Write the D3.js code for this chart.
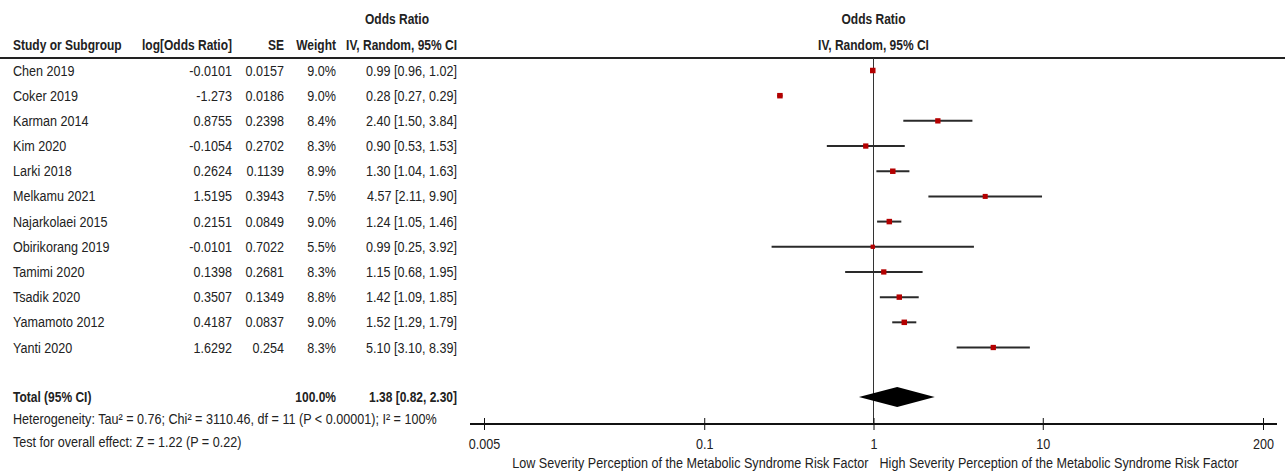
<!DOCTYPE html>
<html>
<head>
<meta charset="utf-8">
<script src="https://cdn.jsdelivr.net/npm/d3@7"></script>
<style>
  html, body { margin: 0; padding: 0; background: #fff; }
  svg { display: block; }
  text { font-family: "Liberation Sans", Arial, sans-serif; font-size: 15px; fill: #222; }
  .bold { font-weight: bold; }
</style>
</head>
<body>
<svg id="chart" width="1285" height="475"></svg>
<script>
const studies = ["Chen 2019","Coker 2019","Karman 2014","Kim 2020","Larki 2018","Melkamu 2021","Najarkolaei 2015","Obirikorang 2019","Tamimi 2020","Tsadik 2020","Yamamoto 2012","Yanti 2020"];
const logOR = ["-0.0101","-1.273","0.8755","-0.1054","0.2624","1.5195","0.2151","-0.0101","0.1398","0.3507","0.4187","1.6292"];
const se = ["0.0157","0.0186","0.2398","0.2702","0.1139","0.3943","0.0849","0.7022","0.2681","0.1349","0.0837","0.254"];
const weights = [9.0, 9.0, 8.4, 8.3, 8.9, 7.5, 9.0, 5.5, 8.3, 8.8, 9.0, 8.3];
const orValues = [0.99, 0.28, 2.40, 0.90, 1.30, 4.57, 1.24, 0.99, 1.15, 1.42, 1.52, 5.10];
const ciLower = [0.96, 0.27, 1.50, 0.53, 1.04, 2.11, 1.05, 0.25, 0.68, 1.09, 1.29, 3.10];
const ciUpper = [1.02, 0.29, 3.84, 1.53, 1.63, 9.90, 1.46, 3.92, 1.95, 1.85, 1.79, 8.39];
const totalOR = 1.38, totalLower = 0.82, totalUpper = 2.30;
const tickValues = [0.005, 0.1, 1, 10, 200];
const tickLabels = ["0.005", "0.1", "1", "10", "200"];
const heterogeneityText = "Heterogeneity: Tau\u00B2 = 0.76; Chi\u00B2 = 3110.46, df = 11 (P < 0.00001); I\u00B2 = 100%";
const overallText = "Test for overall effect: Z = 1.22 (P = 0.22)";
const leftLabel = "Low Severity Perception of the Metabolic Syndrome Risk Factor";
const rightLabel = "High Severity Perception of the Metabolic Syndrome Risk Factor";

const SX = 0.84;       // horizontal condensation to mimic a narrow face
const SX_BOLD = 0.80;

const svg = d3.select("#chart");
const x = d3.scaleLog().domain([0.005, 200]).range([484, 1263]);
const y = d3.scaleLinear().domain([0, 11]).range([70.5, 347.5]);
const size = d3.scaleSqrt().domain([0, 9]).range([0, 5.5]);
const fmtPct = w => w.toFixed(1) + "%";
const fmtCI = (o, l, u) => `${o.toFixed(2)} [${l.toFixed(2)}, ${u.toFixed(2)}]`;

function label(parent, px, py, str, anchor = "start", bold = false) {
  const g = parent.append("g").attr("transform", `translate(${px},${py}) scale(${bold ? SX_BOLD : SX},1)`);
  g.append("text").attr("class", bold ? "bold" : null).attr("text-anchor", anchor).text(str);
  return g;
}

const cols = { study: 13, logOR: 232, se: 284, weight: 336, ci: 457 };
const baseOff = 5;

// Headers
label(svg, 397, 24, "Odds Ratio", "middle", true);
label(svg, cols.study, 50, "Study or Subgroup", "start", true);
label(svg, cols.logOR, 50, "log[Odds Ratio]", "end", true);
label(svg, cols.se, 50, "SE", "end", true);
label(svg, cols.weight, 50, "Weight", "end", true);
label(svg, cols.ci, 50, "IV, Random, 95% CI", "end", true);
label(svg, x(1), 24, "Odds Ratio", "middle", true);
label(svg, x(1), 50, "IV, Random, 95% CI", "middle", true);

svg.append("line").attr("x1", 0).attr("x2", 1285).attr("y1", 58).attr("y2", 58).attr("stroke", "#222").attr("stroke-width", 2);

// Rows
studies.forEach((d, i) => {
  const yy = y(i) + baseOff;
  label(svg, cols.study, yy, d);
  label(svg, cols.logOR, yy, logOR[i], "end");
  label(svg, cols.se, yy, se[i], "end");
  label(svg, cols.weight, yy, fmtPct(weights[i]), "end");
  label(svg, cols.ci, yy, fmtCI(orValues[i], ciLower[i], ciUpper[i]), "end");
});

// Null line
const axisY = 424;
svg.append("line").attr("x1", x(1)).attr("x2", x(1)).attr("y1", 58).attr("y2", axisY).attr("stroke", "#333").attr("stroke-width", 1);

// CI lines and markers
const plot = svg.append("g");
plot.selectAll("line.ci").data(studies).join("line").attr("class","ci")
  .attr("x1", (d, i) => x(ciLower[i])).attr("x2", (d, i) => x(ciUpper[i]))
  .attr("y1", (d, i) => y(i)).attr("y2", (d, i) => y(i))
  .attr("stroke", "#2a2a2a").attr("stroke-width", 2);
plot.selectAll("rect.pt").data(studies).join("rect").attr("class","pt")
  .attr("x", (d, i) => x(orValues[i]) - size(weights[i]) / 2)
  .attr("y", (d, i) => y(i) - size(weights[i]) / 2)
  .attr("width", (d, i) => size(weights[i]))
  .attr("height", (d, i) => size(weights[i]))
  .attr("fill", "#b40000");

// Total
const totY = 397;
label(svg, cols.study, totY + baseOff, "Total (95% CI)", "start", true);
label(svg, cols.weight, totY + baseOff, fmtPct(100), "end", true);
label(svg, cols.ci, totY + baseOff, fmtCI(totalOR, totalLower, totalUpper), "end", true);
svg.append("path")
  .attr("d", `M${x(totalLower)},${totY} L${x(totalOR)},${totY - 10} L${x(totalUpper)},${totY} L${x(totalOR)},${totY + 10} Z`)
  .attr("fill", "#000");

label(svg, cols.study, 419 + baseOff, heterogeneityText);
label(svg, cols.study, 442 + baseOff, overallText);

// Axis
const axis = d3.axisBottom(x).tickValues(tickValues).tickFormat((d, i) => tickLabels[i]).tickSize(6).tickPadding(8);
const gAxis = svg.append("g").attr("transform", `translate(0,${axisY})`).call(axis);
gAxis.select(".domain").remove();
gAxis.append("line").attr("x1", x.range()[0] - 14).attr("x2", x.range()[1] + 14).attr("stroke", "#111").attr("stroke-width", 2);
gAxis.selectAll(".tick line").attr("y1", -6).attr("y2", 6).attr("stroke", "#111");
gAxis.selectAll(".tick text").attr("fill", "#222").attr("transform", `scale(${SX},1)`)
  .style("font-size", "15px").style("font-family", '"Liberation Sans", Arial, sans-serif');

label(svg, x(1) - 5, 468, leftLabel, "end");
label(svg, x(1) + 6, 468, rightLabel, "start");
</script>
</body>
</html>
